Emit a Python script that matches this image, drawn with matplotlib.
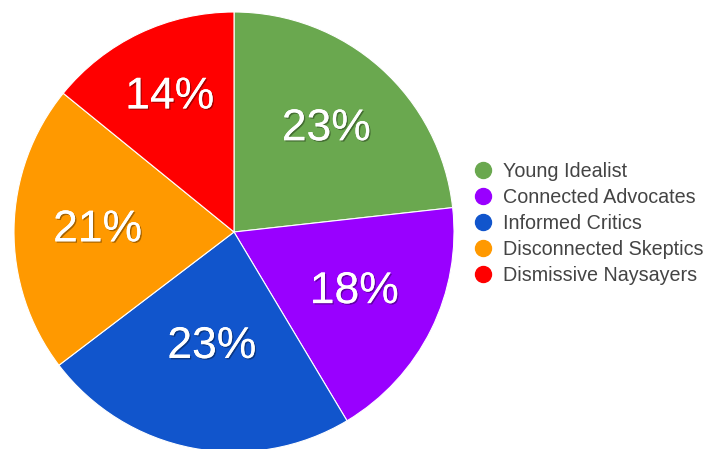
import matplotlib
matplotlib.use("Agg")
from matplotlib import pyplot as plt
from matplotlib.lines import Line2D
import matplotlib.patheffects as pe
import numpy as np

plt.rcParams['font.family'] = ['Liberation Sans', 'DejaVu Sans']

segments = ['Young Idealist', 'Connected Advocates', 'Informed Critics',
            'Disconnected Skeptics', 'Dismissive Naysayers']
shares = [23, 18, 23, 21, 14]
colors = ['#6aa84f', '#9900ff', '#1155cc', '#ff9900', '#ff0000']
# radial position of each percent label (fraction of radius)
label_r = [0.63, 0.61, 0.53, 0.62, 0.68]

W, H = 706, 449
fig = plt.figure(figsize=(W / 100, H / 100), dpi=100)

# pie area in pixels: x 14..454, y 12..452 (top-down)
ax = fig.add_axes([14 / W, (H - 452) / H, 440 / W, 440 / H])
wedges, texts, autotexts = ax.pie(
    shares, colors=colors, startangle=90, counterclock=False,
    autopct='%d%%', pctdistance=0.63,
    wedgeprops=dict(edgecolor='white', linewidth=0.8),
    textprops=dict(color='white', fontsize=32))
for w, t, r in zip(wedges, autotexts, label_r):
    mid = np.deg2rad((w.theta1 + w.theta2) / 2)
    t.set_position((r * np.cos(mid), r * np.sin(mid)))
    t.set_path_effects([pe.withSimplePatchShadow(offset=(1, -1), shadow_rgbFace='black', alpha=0.35),
                        pe.Normal()])
ax.set_xlim(-1.0, 1.0)
ax.set_ylim(-1.0, 1.0)
ax.set_aspect('equal')
ax.axis('off')

handles = [Line2D([], [], marker='o', linestyle='none', markersize=11.5,
                  markerfacecolor=c, markeredgecolor=c) for c in colors]
leg = fig.legend(handles, segments, loc='upper left',
                 bbox_to_anchor=(473 / W, (H - 162) / H), frameon=False,
                 fontsize=14.2, labelspacing=0.35, handletextpad=0.52,
                 handlelength=1.0, borderaxespad=0, borderpad=0)
for t in leg.get_texts():
    t.set_color('#444444')

fig.savefig('out.png', dpi=100)
